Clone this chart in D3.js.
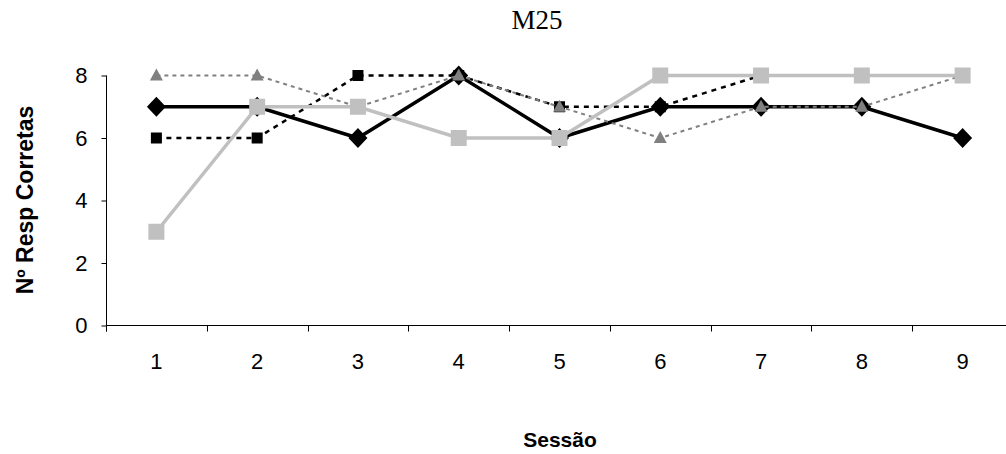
<!DOCTYPE html>
<html><head><meta charset="utf-8">
<script src="https://cdn.jsdelivr.net/npm/d3@7"></script>
<style>body{margin:0;background:#fff}svg{display:block}</style>
</head><body>
<svg id="c" width="1006" height="454"></svg>
<script>
const categories = ["1","2","3","4","5","6","7","8","9"];
const yTicks = [0,2,4,6,8];
const seriesDiamond = [7,7,6,8,6,7,7,7,6];
const seriesSquareBlack = [6,6,8,8,7,7,8,8,8];
const seriesTriangle = [8,8,7,8,7,6,7,7,8];
const seriesSquareGray = [3,7,7,6,6,8,8,8,8];

const FONT = "Arial, 'Liberation Sans', sans-serif";
const svg = d3.select("#c");
const x = d3.scaleBand().domain(categories).range([106, 1013]);
const y = d3.scaleLinear().domain([0, 8]).range([325.5, 75.5]);
const cx = d => x(d) + x.bandwidth() / 2;

// axes
const yAxis = d3.axisLeft(y).tickValues(yTicks).tickSize(5).tickPadding(14);
const gy = svg.append("g").attr("transform", "translate(106.5,0)").call(yAxis);
const xAxis = d3.axisBottom(x).tickSize(0).tickPadding(28);
const gx = svg.append("g").attr("transform", "translate(0,325.5)").call(xAxis);
gx.selectAll("line.bound").data(categories).enter().append("line")
  .attr("class", "bound")
  .attr("x1", d => Math.round(x(d)) + 0.5).attr("x2", d => Math.round(x(d)) + 0.5)
  .attr("y1", 0).attr("y2", 6).attr("stroke", "#000");
gx.select(".domain").attr("d", "M106,0H1013");
[gx, gy].forEach(g => {
  g.selectAll("text").attr("font-family", FONT).attr("font-size", 22).attr("fill", "#000");
  g.selectAll("line,path").attr("stroke", "#000");
});
gy.select(".domain").attr("d", "M0,75.5V331.5");

// titles
svg.append("text").attr("x", 537).attr("y", 29).attr("text-anchor", "middle")
  .attr("font-family", "'Times New Roman', 'Liberation Serif', serif").attr("font-size", 27).text("M25");
svg.append("text").attr("transform", "translate(33,200) rotate(-90)").attr("text-anchor", "middle")
  .attr("font-family", FONT).attr("font-weight", "bold").attr("font-size", 23).text("Nº Resp Corretas");
svg.append("text").attr("x", 560).attr("y", 447).attr("text-anchor", "middle")
  .attr("font-family", FONT).attr("font-weight", "bold").attr("font-size", 21).text("Sessão");

const line = d3.line().x((d, i) => cx(categories[i])).y(d => y(d));
const specs = [
  {data: seriesSquareBlack, stroke: "#000", width: 2.5, dash: "5,5", marker: "sqb"},
  {data: seriesDiamond, stroke: "#000", width: 3.5, dash: null, marker: "dia"},
  {data: seriesTriangle, stroke: "#808080", width: 2, dash: "4,4", marker: "tri"},
  {data: seriesSquareGray, stroke: "#C0C0C0", width: 3.5, dash: null, marker: "sqg"}
];
specs.forEach(s => {
  svg.append("path").attr("d", line(s.data)).attr("fill", "none")
    .attr("stroke", s.stroke).attr("stroke-width", s.width)
    .attr("stroke-dasharray", s.dash);
  const g = svg.append("g");
  s.data.forEach((v, i) => {
    const px = cx(categories[i]), py = y(v);
    if (s.marker === "sqb") {
      g.append("rect").attr("x", px - 5.5).attr("y", py - 5.5).attr("width", 11).attr("height", 11).attr("fill", "#000");
    } else if (s.marker === "dia") {
      g.append("path").attr("d", `M${px},${py-10}L${px+9.5},${py}L${px},${py+10}L${px-9.5},${py}Z`).attr("fill", "#000");
    } else if (s.marker === "tri") {
      g.append("path").attr("d", `M${px},${py-7}L${px+6.5},${py+5}L${px-6.5},${py+5}Z`).attr("fill", "#808080");
    } else {
      g.append("rect").attr("x", px - 8).attr("y", py - 8).attr("width", 16).attr("height", 16).attr("fill", "#C0C0C0");
    }
  });
});
</script>
</body></html>
